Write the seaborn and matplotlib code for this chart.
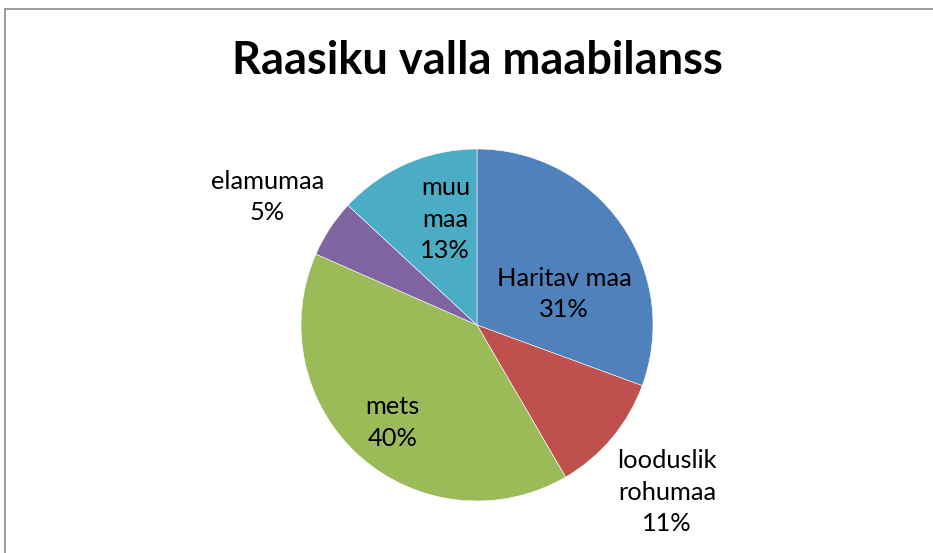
import matplotlib
matplotlib.use("Agg")
import matplotlib.pyplot as plt
import seaborn as sns
from matplotlib.lines import Line2D

# land use shares
categories = ["Haritav maa", "looduslik\nrohumaa", "mets", "elamumaa", "muu\nmaa"]
shares = [30.6, 11.0, 40.0, 5.3, 13.1]
colors = ["#4F81BD", "#C0504D", "#9BBB59", "#8064A2", "#4BACC6"]

sns.set_theme(style="white")
plt.rcParams['font.family'] = ['Lato', 'DejaVu Sans']

fig = plt.figure(figsize=(9.33, 5.53), dpi=100)
# pie centred at (477, 325) px, radius 176 px
ax = fig.add_axes([301 / 933, 52 / 553, 352 / 933, 352 / 553])
wedges, _ = ax.pie(shares, colors=colors, startangle=90, counterclock=False,
                   radius=1, wedgeprops=dict(edgecolor="white", linewidth=0.4))
ax.set_xlim(-1, 1)
ax.set_ylim(-1, 1)
ax.axis("off")

# label placement (layout, in pie radius units)
label_pos = [(0.494, 0.176), (1.08, -0.95), (-0.479, -0.554), (-1.19, 0.727), (-0.18, 0.60)]
for name, v, (x, y) in zip(categories, shares, label_pos):
    ax.text(x, y, f"{name}\n{v:.0f}%", ha="center", va="center",
            fontsize=18.3, color="black", linespacing=1.45, clip_on=False)

fig.text(477.5 / 933, 1 - 61 / 553, "Raasiku valla maabilanss", ha="center", va="center",
         fontsize=32.5, fontweight="bold", color="black")

# chart frame (only top and left edges fall inside the picture)
fig.add_artist(Line2D([5 / 933, 1], [1 - 9 / 553, 1 - 9 / 553], color="#8c8c8c", lw=1.2,
                      transform=fig.transFigure))
fig.add_artist(Line2D([5 / 933, 5 / 933], [0, 1 - 9 / 553], color="#8c8c8c", lw=1.2,
                      transform=fig.transFigure))

fig.savefig("out.png", dpi=100, facecolor="white")
